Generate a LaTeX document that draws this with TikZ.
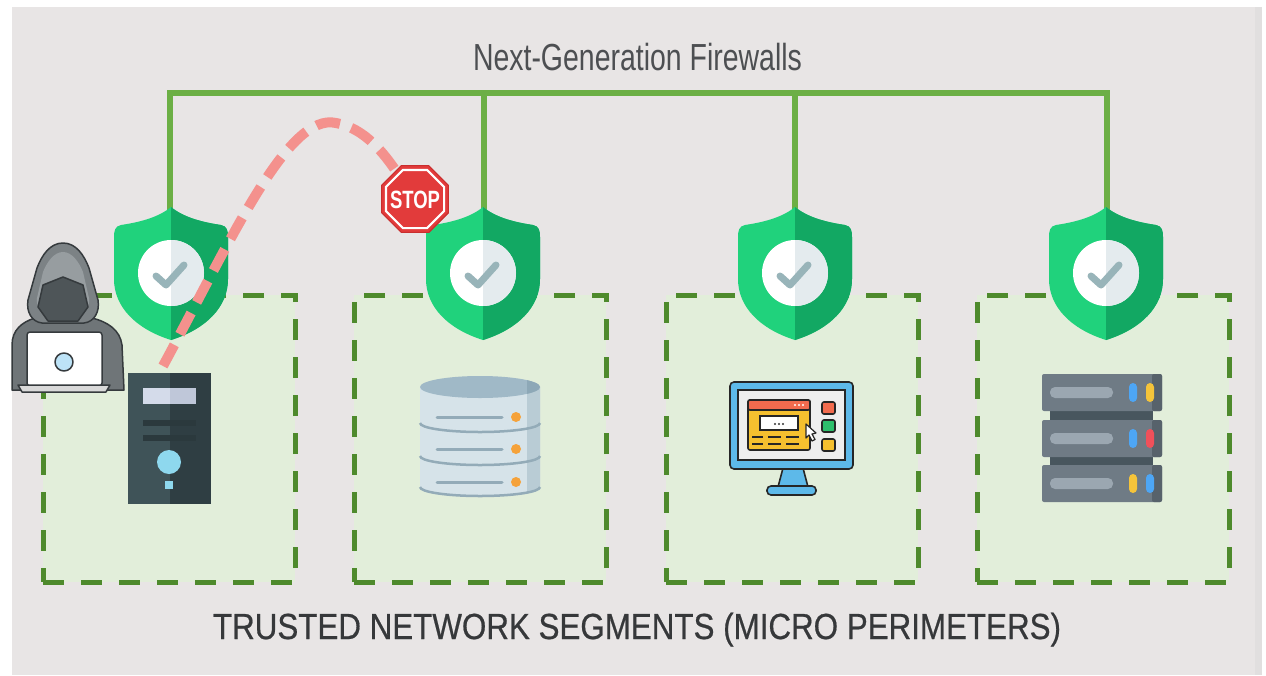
\documentclass[tikz,border=0pt]{standalone}
\usepackage{fontspec}
\usepackage{graphicx}
\setmainfont{Liberation Sans}
\newfontfamily\captionfont[FakeBold=0.6]{Liberation Sans}
\usetikzlibrary{shapes.geometric}

% palette
\definecolor{panel}{HTML}{E8E5E5}
\definecolor{panelEdge}{HTML}{E1DFDF}
\definecolor{bus}{HTML}{6CAF45}
\definecolor{segline}{HTML}{4E8A2C}
\definecolor{segfill}{HTML}{E2EEDA}
\definecolor{shieldL}{HTML}{20D27C}
\definecolor{shieldR}{HTML}{12A863}
\definecolor{discR}{HTML}{E4EBEE}
\definecolor{checkc}{HTML}{98B4B9}
\definecolor{attack}{HTML}{F4918D}
\definecolor{stopred}{HTML}{E23B3B}
\definecolor{stopdark}{HTML}{C92E2E}
\definecolor{titlegrey}{HTML}{4D4F52}
\definecolor{captiongrey}{HTML}{36383A}
% tower pc
\definecolor{pcL}{HTML}{3F5358}
\definecolor{pcR}{HTML}{2F3E43}
\definecolor{pcPanelL}{HTML}{D4DBEA}
\definecolor{pcPanelR}{HTML}{BFC7D9}
\definecolor{pcSlot}{HTML}{2B393D}
\definecolor{pcLight}{HTML}{8ED8EE}
% database
\definecolor{dbBody}{HTML}{D6E3E9}
\definecolor{dbShade}{HTML}{B9CCD5}
\definecolor{dbTop}{HTML}{A0B9C7}
\definecolor{dbTopShade}{HTML}{8DA8B7}
\definecolor{dbLine}{HTML}{93ABB8}
\definecolor{dbDot}{HTML}{F5A23A}
% monitor
\definecolor{monBlue}{HTML}{5DB9E9}
\definecolor{screen}{HTML}{EEEEEE}
\definecolor{winYellow}{HTML}{F5C02F}
\definecolor{winRed}{HTML}{F26B4E}
\definecolor{btnGreen}{HTML}{2DBE6C}
% rack
\definecolor{rackBody}{HTML}{6F7B85}
\definecolor{rackShade}{HTML}{57626B}
\definecolor{rackLink}{HTML}{48565E}
\definecolor{rackSlot}{HTML}{9BA7B1}
\definecolor{ledBlue}{HTML}{4DA6F5}
\definecolor{ledYellow}{HTML}{F5C43A}
\definecolor{ledRed}{HTML}{F0505A}
% hacker
\definecolor{hoodOut}{HTML}{7C8285}
\definecolor{hoodIn}{HTML}{979DA0}
\definecolor{faceDark}{HTML}{4E5558}
\definecolor{bodyGrey}{HTML}{6F7578}
\definecolor{inkDark}{HTML}{353A3D}
\definecolor{lens}{HTML}{BDE3F7}

\tikzset{
  segment/.style={draw=segline, fill=segfill, line width=5pt,
    dash pattern=on 21pt off 17pt, minimum width=252pt, minimum height=287pt,
    anchor=north west, inner sep=0pt, outer sep=0pt},
  busline/.style={draw=bus, line width=6pt, line join=miter},
  attackline/.style={draw=attack, line width=10pt, dash pattern=on 24pt off 12pt},
  outl/.style={draw=black!85, line width=1.6pt},
  inkline/.style={draw=inkDark, line width=1.5pt, line join=round},
  shieldpic/.pic={
    \fill[shieldL] (0,0) .. controls (-12,10) and (-30,15) .. (-50,18)
      .. controls (-56,19) and (-57,24) .. (-57,30) -- (-57,72)
      .. controls (-57,100) and (-35,122) .. (0,133)
      .. controls (35,122) and (57,100) .. (57,72) -- (57,30)
      .. controls (57,24) and (56,19) .. (50,18)
      .. controls (30,15) and (12,10) .. (0,0) -- cycle;
    \begin{scope}
      \clip (0,-5) rectangle (70,140);
      \fill[shieldR] (0,0) .. controls (-12,10) and (-30,15) .. (-50,18)
        .. controls (-56,19) and (-57,24) .. (-57,30) -- (-57,72)
        .. controls (-57,100) and (-35,122) .. (0,133)
        .. controls (35,122) and (57,100) .. (57,72) -- (57,30)
        .. controls (57,24) and (56,19) .. (50,18)
        .. controls (30,15) and (12,10) .. (0,0) -- cycle;
    \end{scope}
    \fill[white] (0,66) circle (33);
    \fill[discR] (0,33) arc[start angle=-90, end angle=90, radius=33] -- cycle;
    \draw[checkc, line width=7pt, line cap=round, line join=round]
      (-15,69) -- (-5,78) -- (13,58);
  }
}

\begin{document}
\begin{tikzpicture}[x=1pt,y=-1pt]
\useasboundingbox (0,0) rectangle (1266,675);
\fill[white] (0,0) rectangle (1266,675);
\fill[panel] (12,7) rectangle (1262,675);
\fill[panelEdge] (1255,7) rectangle (1262,675);

% trusted segments
\node[segment] (seg1) at (43,295) {};
\node[segment] (seg2) at (354,295) {};
\node[segment] (seg3) at (666,295) {};
\node[segment] (seg4) at (977,295) {};

% firewall bus
\coordinate (b1) at (170,93);
\coordinate (b2) at (484,93);
\coordinate (b3) at (795,93);
\coordinate (b4) at (1107,93);
\coordinate (fw1) at (170,215);
\coordinate (fw2) at (484,215);
\coordinate (fw3) at (795,215);
\coordinate (fw4) at (1107,215);
\draw[busline] (fw1) -- (b1) -- (b4) -- (fw4);
\draw[busline] (b2) -- (fw2);
\draw[busline] (b3) -- (fw3);

% firewall shields
\pic at (171,207) {shieldpic};
\pic at (483,207) {shieldpic};
\pic at (795,207) {shieldpic};
\pic at (1106,207) {shieldpic};

% tower pc
\fill[pcL] (128,373) rectangle (170,504);
\fill[pcR] (170,373) rectangle (211,504);
\fill[pcPanelL] (143,388) rectangle (170,404);
\fill[pcPanelR] (170,388) rectangle (196,404);
\fill[pcSlot] (143,420) rectangle (196,426);
\fill[pcSlot] (143,435) rectangle (196,441);
\fill[pcLight] (169,462) circle (12);
\fill[pcLight] (165,481) rectangle (173,489);
\coordinate (pctop) at (163,366);

% database
\fill[dbBody] (420,387) -- (420,487) arc[start angle=180, end angle=0, x radius=60, y radius=9] -- (540,387) -- cycle;
\begin{scope}
  \clip (420,387) -- (420,487) arc[start angle=180, end angle=0, x radius=60, y radius=9] -- (540,387) -- cycle;
  \fill[dbShade] (527,370) rectangle (545,500);
\end{scope}
\fill[dbTop] (480,387) ellipse[x radius=60, y radius=11];
\begin{scope}
  \clip (480,387) ellipse[x radius=60, y radius=11];
  \fill[dbTopShade] (527,370) rectangle (545,400);
\end{scope}
\draw[dbLine, line width=2.5pt] (420,423) arc[start angle=180, end angle=0, x radius=60, y radius=9];
\draw[dbLine, line width=2.5pt] (420,456) arc[start angle=180, end angle=0, x radius=60, y radius=9];
\draw[dbLine, line width=2.5pt] (420,487) arc[start angle=180, end angle=0, x radius=60, y radius=9];
\foreach \yy in {417,449,482}{
  \draw[dbLine, line width=3pt, line cap=round] (437,\yy) -- (502,\yy);
  \fill[dbDot] (516,\yy) circle (5);
}

% monitor
\draw[outl, fill=monBlue] (783,468) -- (778,487) -- (808,487) -- (803,468) -- cycle;
\draw[outl, fill=monBlue, rounded corners=4pt] (767,486) rectangle (816,495);
\draw[outl, fill=monBlue, rounded corners=4pt] (730,382) rectangle (853,469);
\draw[outl, fill=screen] (738,390) rectangle (845,460);
\draw[outl, fill=winYellow, rounded corners=2pt] (748,400) rectangle (810,450);
\draw[outl, fill=winRed, rounded corners=2pt] (748,400) rectangle (810,410);
\foreach \xx in {795,799,803} \fill[white] (\xx,405) circle (1.2);
\draw[outl, fill=white] (760,416) rectangle (798,430);
\foreach \xx in {775,779,783} \fill[black!80] (\xx,424) circle (1.2);
\foreach \yy in {437,444}{
  \draw[black!85, line width=2pt] (752,\yy) -- (763,\yy);
  \draw[black!85, line width=2pt] (768,\yy) -- (781,\yy);
  \draw[black!85, line width=2pt] (786,\yy) -- (799,\yy);
}
\draw[fill=white, draw=black!85, line width=1.2pt, line join=round]
  (806,424) -- (806,438) -- (809,435) -- (812,441) -- (815,439.5) -- (812,434) -- (816,433) -- cycle;
\draw[outl, fill=winRed, rounded corners=2pt] (822,402) rectangle (835,414);
\draw[outl, fill=btnGreen, rounded corners=2pt] (822,420) rectangle (835,432);
\draw[outl, fill=winYellow, rounded corners=2pt] (822,439) rectangle (835,451);

% rack server
\fill[rackLink] (1050,408) rectangle (1153,423);
\fill[rackLink] (1050,454) rectangle (1153,468);
\foreach \yy/\ca/\cb in {374/ledBlue/ledYellow, 420/ledBlue/ledRed, 465/ledYellow/ledBlue}{
  \fill[rackBody, rounded corners=2pt] (1042,\yy) rectangle (1162,\yy+37);
  \fill[rackShade, rounded corners=2pt] (1152,\yy) rectangle (1162,\yy+37);
  \fill[rackSlot, rounded corners=5pt] (1050,\yy+13) rectangle (1113,\yy+24);
  \fill[\ca, rounded corners=4pt] (1129,\yy+9) rectangle (1137,\yy+28);
  \fill[\cb, rounded corners=4pt] (1146,\yy+9) rectangle (1154,\yy+28);
}

% hooded intruder
\draw[inkline, fill=bodyGrey] (12,390) -- (12,345) .. controls (12,330) and (22,322) .. (35,318)
  -- (92,318) .. controls (108,322) and (120,330) .. (122,345) -- (124,390) -- cycle;
\draw[inkline, fill=hoodOut] (63,243) .. controls (50,243) and (42,255) .. (37,268) -- (28,300)
  .. controls (26,312) and (32,322) .. (42,323) -- (84,323) .. controls (94,322) and (100,312) .. (98,300)
  -- (89,268) .. controls (84,255) and (76,243) .. (63,243) -- cycle;
\fill[hoodIn] (63,252) .. controls (54,252) and (47,262) .. (43,272) -- (37,298)
  .. controls (36,306) and (40,312) .. (46,313) -- (80,313) .. controls (86,312) and (90,306) .. (89,298)
  -- (83,272) .. controls (79,262) and (72,252) .. (63,252) -- cycle;
\draw[inkline, fill=faceDark] (43,285) -- (63,277) -- (83,285) -- (88,307) -- (78,321)
  -- (48,321) -- (38,307) -- cycle;
\draw[inkline, fill=white, rounded corners=3pt] (27,332) rectangle (102,386);
\draw[inkline, fill=lens] (64,362) circle (9);
\draw[inkline, fill=white!85!black] (18,385) -- (110,385) -- (106,392) -- (22,392) -- cycle;

% blocked lateral movement
\node[regular polygon, regular polygon sides=8, minimum size=72pt, fill=stopred,
  draw=stopdark, line width=1pt, inner sep=0pt] (stop) at (415,199) {};
\draw[attackline] (pctop) .. controls (232,238) and (288,112) .. (336,123)
  .. controls (365,128) and (385,155) .. (stop);
\node[regular polygon, regular polygon sides=8, minimum size=72pt, fill=stopred,
  draw=stopdark, line width=1pt, inner sep=0pt] (stopface) at (stop.center) {};
\node[regular polygon, regular polygon sides=8, minimum size=63pt, draw=white,
  line width=2.2pt, inner sep=0pt] (stopring) at (stop.center) {};
\node[text=white, font=\bfseries\fontsize{25}{25}\selectfont, inner sep=0pt, anchor=base]
  (stoptext) at (415,208) {\resizebox{50pt}{\height}{STOP}};

% labels
\node[anchor=base, inner sep=0pt, text=titlegrey, font=\fontsize{37.7}{40}\selectfont]
  (title) at (637.5,70) {\resizebox{329pt}{\height}{Next-Generation Firewalls}};
\node[anchor=base, inner sep=0pt, text=captiongrey, font=\captionfont\fontsize{36.3}{40}\selectfont]
  (caption) at (637,639) {\resizebox{848pt}{\height}{TRUSTED NETWORK SEGMENTS (MICRO PERIMETERS)}};
\end{tikzpicture}
\end{document}
